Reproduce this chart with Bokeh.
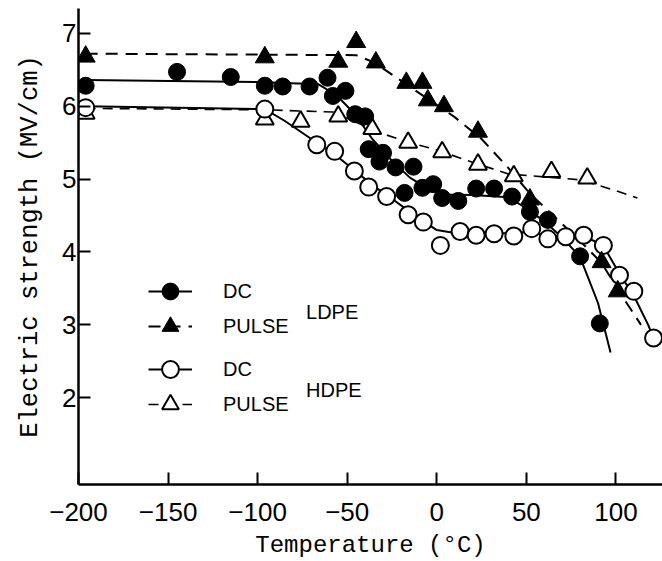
from bokeh.plotting import figure
from bokeh.models import Range1d, FixedTicker, Legend, LegendItem, Label
from bokeh.embed import file_html
from bokeh.resources import INLINE

# ---- data ----
x_ticks = [-200, -150, -100, -50, 0, 50, 100]
y_ticks = [2, 3, 4, 5, 6, 7]

# LDPE, DC (filled circles)
ldpe_dc_t = [-196, -145, -115, -96, -86, -71, -61, -58, -51, -45.5, -40, -38, -32, -30, -23,
             -13, -18, -8, -2, 3, 12, 22, 32, 42, 52, 62, 80, 91]
ldpe_dc_e = [6.28, 6.47, 6.40, 6.28, 6.27, 6.27, 6.39, 6.14, 6.21, 5.89, 5.86, 5.41, 5.24, 5.36, 5.16,
             5.17, 4.81, 4.88, 4.93, 4.74, 4.70, 4.87, 4.87, 4.76, 4.55, 4.44, 3.94, 3.02]
ldpe_dc_curve_t = [-196, -100, -66, -56, -46, -36, -25, -15, -5, 5, 20, 40, 50, 60, 70, 80, 90, 97]
ldpe_dc_curve_e = [6.36, 6.33, 6.30, 6.15, 5.90, 5.55, 5.25, 5.02, 4.87, 4.79, 4.78, 4.75, 4.60, 4.42, 4.20, 3.93, 3.30, 2.62]

# LDPE, PULSE (filled triangles)
ldpe_pu_t = [-196, -96, -55, -45, -34, -17, -8, -5, 4, 23, 52, 92, 101]
ldpe_pu_e = [6.68, 6.67, 6.61, 6.88, 6.60, 6.32, 6.32, 6.08, 6.00, 5.65, 4.72, 3.86, 3.46]
ldpe_pu_curve_t = [-196, -45, -35, -20, -5, 10, 25, 40, 52, 65, 80, 92, 102, 114]
ldpe_pu_curve_e = [6.72, 6.70, 6.60, 6.35, 6.10, 5.85, 5.55, 5.15, 4.80, 4.50, 4.15, 3.85, 3.45, 3.00]

# HDPE, DC (open circles)
hdpe_dc_t = [-196, -96, -67, -57, -46, -38, -28, -16, -7.5, 2, 13, 22, 32, 43, 53, 62, 72, 82,
             93, 102, 110, 121]
hdpe_dc_e = [5.98, 5.96, 5.47, 5.38, 5.11, 4.89, 4.76, 4.51, 4.41, 4.09, 4.28, 4.23, 4.25, 4.22, 4.32, 4.18, 4.21, 4.23,
             4.09, 3.68, 3.46, 2.82]
hdpe_dc_curve_t = [-196, -96, -85, -70, -55, -45, -35, -25, -15, -8, 0, 10, 30, 50, 65, 80, 88, 95, 102, 110, 118, 123]
hdpe_dc_curve_e = [6.00, 5.96, 5.80, 5.55, 5.30, 5.10, 4.90, 4.73, 4.55, 4.43, 4.30, 4.26, 4.25, 4.27, 4.22, 4.22, 4.15, 4.00, 3.70, 3.40, 3.00, 2.70]

# HDPE, PULSE (open triangles)
hdpe_pu_t = [-196, -96, -76, -55, -36, -16, 3, 23, 43, 64, 84]
hdpe_pu_e = [5.90, 5.82, 5.79, 5.86, 5.69, 5.50, 5.37, 5.20, 5.04, 5.10, 5.01]
hdpe_pu_curve_t = [-196, -96, -58, -45, -30, -15, 0, 20, 40, 60, 80, 100, 112]
hdpe_pu_curve_e = [5.97, 5.95, 5.92, 5.78, 5.62, 5.50, 5.40, 5.23, 5.07, 5.03, 4.99, 4.84, 4.74]

# ---- figure ----
p = figure(width=662, height=561, output_backend="svg", toolbar_location=None,
           x_range=Range1d(-200, 126), y_range=Range1d(0.81, 7.34),
           min_border_left=78, min_border_right=0, min_border_top=8, min_border_bottom=0)
p.outline_line_color = None
p.xgrid.visible = False
p.ygrid.visible = False
p.background_fill_color = "white"

for ax in (p.xaxis[0], p.yaxis[0]):
    ax.axis_line_width = 2.5
    ax.axis_line_color = "black"
    ax.major_tick_line_width = 2
    ax.major_tick_line_color = "black"
    ax.major_tick_out = 0
    ax.major_tick_in = 12
    ax.minor_tick_out = 0
    ax.minor_tick_in = 0
    ax.minor_tick_line_color = None
    ax.major_label_text_font = "Liberation Sans"
    ax.major_label_text_font_size = "26px"
    ax.major_label_text_color = "black"
    ax.axis_label_text_font = "Liberation Mono"
    ax.axis_label_text_font_style = "normal"
    ax.axis_label_text_color = "black"

p.xaxis.ticker = FixedTicker(ticks=x_ticks)
p.yaxis.ticker = FixedTicker(ticks=y_ticks)
# a figure space before one label widens the label column (text is right aligned)
p.yaxis.major_label_overrides = {7: "\u20077"}
p.xaxis.axis_label = "Temperature (°C)"
p.yaxis.axis_label = "Electric strength (MV/cm)"
p.xaxis.axis_label_text_font_size = "24px"
p.yaxis.axis_label_text_font_size = "25.5px"
p.xaxis.major_label_standoff = 18
p.xaxis.axis_label_standoff = 8
p.yaxis.major_label_standoff = 2
p.yaxis.axis_label_standoff = 0

# curves
l_ldpe_dc = p.line(ldpe_dc_curve_t, ldpe_dc_curve_e, line_color="black", line_width=2)
l_ldpe_pu = p.line(ldpe_pu_curve_t, ldpe_pu_curve_e, line_color="black", line_width=2, line_dash="12 8")
l_hdpe_dc = p.line(hdpe_dc_curve_t, hdpe_dc_curve_e, line_color="black", line_width=2)
l_hdpe_pu = p.line(hdpe_pu_curve_t, hdpe_pu_curve_e, line_color="black", line_width=1.6, line_dash="10 7")

# markers
m_hdpe_pu = p.scatter(hdpe_pu_t, hdpe_pu_e, marker="triangle", size=18, fill_color="white",
                      line_color="black", line_width=2)
m_hdpe_dc = p.scatter(hdpe_dc_t, hdpe_dc_e, marker="circle", size=17, fill_color="white",
                      line_color="black", line_width=2)
m_ldpe_pu = p.scatter(ldpe_pu_t, ldpe_pu_e, marker="triangle", size=19, fill_color="black",
                      line_color="black")
m_ldpe_dc = p.scatter(ldpe_dc_t, ldpe_dc_e, marker="circle", size=17, fill_color="black",
                      line_color="black")

def make_legend(label, renderers, loc):
    return Legend(items=[LegendItem(label=label, renderers=renderers)], location=loc,
                  orientation="vertical", glyph_width=44, glyph_height=42, label_height=30,
                  spacing=0, padding=0, margin=0, border_line_color=None, background_fill_alpha=0,
                  label_text_font="Liberation Sans", label_text_font_size="20px",
                  label_text_color="black", label_standoff=31)

p.add_layout(make_legend("DC", [l_ldpe_dc, m_ldpe_dc], (70, 172)))
p.add_layout(make_legend("PULSE", [l_ldpe_pu, m_ldpe_pu], (70, 137)))
p.add_layout(make_legend("DC", [l_hdpe_dc, m_hdpe_dc], (70, 94)))
p.add_layout(make_legend("PULSE", [l_hdpe_pu, m_hdpe_pu], (70, 59)))

p.add_layout(Label(x=-73, y=3.17, text="LDPE", text_font="Liberation Sans",
                   text_font_size="20px", text_baseline="middle", text_color="black"))
p.add_layout(Label(x=-73, y=2.11, text="HDPE", text_font="Liberation Sans",
                   text_font_size="20px", text_baseline="middle", text_color="black"))

open("out.html", "w").write(file_html(p, INLINE))
